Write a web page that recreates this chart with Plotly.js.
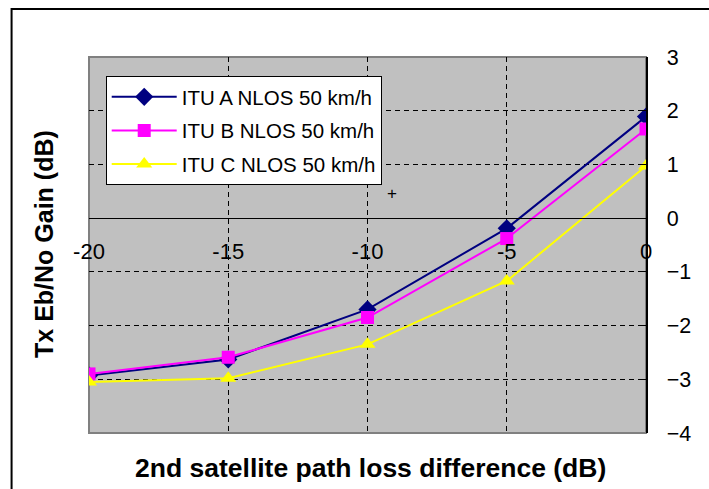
<!DOCTYPE html>
<html>
<head>
<meta charset="utf-8">
<script src="https://cdn.plot.ly/plotly-3.0.1.min.js"></script>
<style>
html,body{margin:0;padding:0;background:#fff;}
#chart{width:709px;height:489px;}
</style>
</head>
<body>
<div id="chart"></div>
<script>
const xValues = [-20, -15, -10, -5, 0];
const ituA = [-2.93, -2.63, -1.70, -0.19, 1.89];
const ituB = [-2.90, -2.59, -1.85, -0.38, 1.66];
const ituC = [-3.05, -2.98, -2.35, -1.17, 0.97];
const seriesNames = ['ITU A NLOS 50 km/h', 'ITU B NLOS 50 km/h', 'ITU C NLOS 50 km/h'];
const xTitle = '2nd satellite path loss difference (dB)';
const yTitle = 'Tx Eb/No Gain (dB)';

const FONT = 'Arial, "Liberation Sans", sans-serif';

const traces = [
  {x: xValues, y: ituA, name: seriesNames[0], mode: 'lines+markers', legendgroup: 'a',
   line: {color: '#000080', width: 2}, marker: {symbol: 'diamond', size: 14, color: '#000080'}},
  {x: xValues, y: ituB, name: seriesNames[1], mode: 'lines+markers', legendgroup: 'b',
   line: {color: '#FF00FF', width: 2}, marker: {symbol: 'square', size: 13, color: '#FF00FF'}},
  {x: xValues, y: ituC, name: seriesNames[2], mode: 'lines+markers', legendgroup: 'c',
   line: {color: '#FFFF00', width: 2}, marker: {symbol: 'triangle-up', size: 14, color: '#FFFF00'}}
];

const layout = {
  width: 709, height: 489,
  margin: {l: 89, r: 63, t: 57, b: 56, pad: 0},
  paper_bgcolor: '#ffffff',
  plot_bgcolor: '#c0c0c0',
  font: {family: FONT, color: '#000', size: 20},
  showlegend: true,
  legend: {
    x: 0.030, y: 0.9495, xanchor: 'left', yanchor: 'top',
    bgcolor: '#ffffff', bordercolor: '#000', borderwidth: 1,
    font: {family: FONT, size: 20.5, color: '#000'},
    itemwidth: 65, tracegroupgap: 4, traceorder: 'grouped'
  },
  xaxis: {
    range: [-20, 0], tickvals: xValues, ticktext: xValues.map(String),
    anchor: 'free', position: 4/7,
    showline: true, linecolor: '#000', linewidth: 1,
    ticks: '', ticklabelstandoff: 13,
    showgrid: true, gridcolor: '#000', gridwidth: 1, griddash: '5px,4px',
    zeroline: false, fixedrange: true,
    tickfont: {family: FONT, size: 22, color: '#000'}
  },
  yaxis: {
    side: 'right', range: [-4, 3], dtick: 1, tick0: 0,
    showline: true, linecolor: '#000', linewidth: 1.5,
    ticks: 'inside', ticklen: 6, tickcolor: '#000', ticklabelstandoff: 15,
    showgrid: true, gridcolor: '#000', gridwidth: 1, griddash: '5px,4px',
    zeroline: false, fixedrange: true,
    tickfont: {family: FONT, size: 21.5, color: '#000'}
  },
  shapes: [
    {type: 'rect', xref: 'paper', yref: 'paper', x0: 0, x1: 1, y0: 0, y1: 1,
     line: {color: '#808080', width: 2}, layer: 'between'},
    {type: 'rect', xref: 'paper', yref: 'paper', x0: -0.139, x1: 1.2, y0: -0.3, y1: 1.1277,
     line: {color: '#000', width: 2}, layer: 'above'}
  ],
  annotations: [
    {text: '<b>' + xTitle + '</b>', xref: 'paper', yref: 'paper', x: 0.506, y: -0.093,
     showarrow: false, font: {family: FONT, size: 26.5, color: '#000'}, xanchor: 'center', yanchor: 'middle'},
    {text: '<b>' + yTitle + '</b>', xref: 'paper', yref: 'paper', x: -0.0808, y: 0.5027,
     textangle: -90, showarrow: false, font: {family: FONT, size: 25, color: '#000'}, xanchor: 'center', yanchor: 'middle'},
    {text: '+', xref: 'paper', yref: 'paper', x: (392 - 89) / 557, y: (433 - 193) / 376,
     showarrow: false, font: {family: FONT, size: 17, color: '#000'}, xanchor: 'center', yanchor: 'middle'}
  ]
};

Plotly.newPlot('chart', traces, layout, {displayModeBar: false, staticPlot: true});
</script>
</body>
</html>
